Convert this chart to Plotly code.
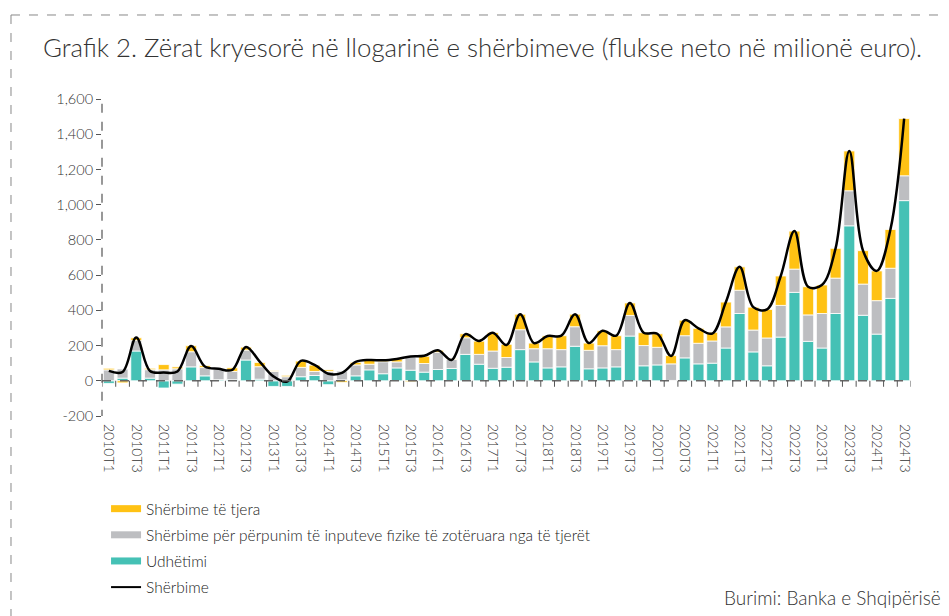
import plotly.graph_objects as go

# Quarterly categories 2010T1 .. 2024T3
years = list(range(2010, 2025))
categories = [f"{y}T{q}" for y in years for q in (1, 2, 3, 4)][:59]

# Net flows, million euro
udhetimi = [-15, 15, 169, 15, -41, -19, 79, 28, 6, 6, 118, 9, -32, -32, 23,
            30, -22, 5, 28, 62, 40, 73, 60, 49, 64, 70, 150, 94, 71, 77,
            177, 107, 73, 79, 196, 68, 73, 79, 254, 85, 90, 2, 130, 96, 100,
            186, 382, 164, 85, 248, 502, 224, 186, 382, 880, 372, 265, 468, 1023]
perpunim = [62, 52, 60, 48, 62, 68, 86, 47, 60, 47, 56, 71, 53, 23, 53,
            23, 53, 50, 62, 32, 68, 34, 75, 49, 98, 51, 94, 56, 98, 55,
            113, 75, 109, 98, 111, 105, 126, 98, 117, 115, 100, 94, 126, 117, 126,
            120, 132, 124, 158, 180, 132, 150, 196, 201, 199, 177, 190, 171, 141]
tjera = [9, -12, 15, 8, 30, 11, 34, 11, 0, 21, 17, 24, 4, 8, 36,
         36, 9, -10, 15, 24, 8, 17, -6, 41, 11, 4, 23, 75, 105, 75,
         88, 32, 73, 79, 71, 41, 85, 79, 71, 73, 77, 47, 88, 85, 49,
         141, 133, 130, 162, 167, 216, 160, 162, 169, 226, 190, 169, 220, 325]
sherbime = [56, 50, 246, 56, 47, 53, 197, 81, 68, 62, 192, 109, 25, -5, 113,
            90, 40, 45, 107, 118, 116, 124, 138, 142, 173, 118, 265, 226, 273, 203,
            378, 214, 254, 256, 378, 214, 284, 256, 442, 273, 267, 141, 344, 298, 268,
            447, 647, 418, 405, 595, 850, 534, 544, 752, 1305, 739, 624, 859, 1489]

ytick_vals = [-200, 0, 200, 400, 600, 800, 1000, 1200, 1400, 1600]
ytick_text = ["-200", "0", "200", "400", "600", "800", "1,000", "1,200", "1,400", "1,600"]

TEAL = "#45C1B5"
GRAY = "#BDBEC1"
YELLOW = "#FFC214"
FONT = "Lato"

fig = go.Figure()

# stacked bars (bottom to top)
for name, vals, col in [("Udhëtimi", udhetimi, TEAL),
                        ("Shërbime për përpunim të inputeve fizike të zotëruara nga të tjerët", perpunim, GRAY),
                        ("Shërbime të tjera", tjera, YELLOW)]:
    fig.add_trace(go.Bar(x=categories, y=vals, name=name, marker_color=col,
                         marker_line=dict(color="white", width=0.8),
                         showlegend=False))

fig.add_trace(go.Scatter(x=categories, y=sherbime, mode="lines", name="Shërbime",
                         line=dict(color="black", width=2.5, shape="spline", smoothing=1.0),
                         showlegend=False))

# legend entries drawn as thick strokes like the original
for i, (name, col, w) in enumerate([("Shërbime të tjera", YELLOW, 7),
                                    ("Shërbime për përpunim të inputeve fizike të zotëruara nga të tjerët", GRAY, 7),
                                    ("Udhëtimi", TEAL, 7),
                                    ("Shërbime", "black", 2)]):
    fig.add_trace(go.Scatter(x=[categories[0]], y=[None], mode="lines", name=name,
                             legendgroup=f"g{i}", line=dict(color=col, width=w)))

shapes = []
# dashed y axis
shapes.append(dict(type="line", xref="paper", yref="y", x0=0, x1=0, y0=-215, y1=1620,
                   line=dict(color="#777", width=1.5, dash="dash"), layer="above"))
# dashed zero line
shapes.append(dict(type="line", xref="paper", yref="y", x0=0, x1=1, y0=0, y1=0,
                   line=dict(color="#666", width=1.5, dash="dash"), layer="above"))
# little ticks on the zero line between categories
for k in range(len(categories) + 1):
    shapes.append(dict(type="line", xref="x", yref="y", ysizemode="pixel", yanchor=0,
                       x0=k - 0.5, x1=k - 0.5, y0=0, y1=-6,
                       line=dict(color="#555", width=1)))
# dashed frame (top and left)
shapes.append(dict(type="line", xref="paper", yref="paper", x0=-0.1125, x1=1.06, y0=1.265, y1=1.265,
                   line=dict(color="#888", width=1, dash="dash")))
shapes.append(dict(type="line", xref="paper", yref="paper", x0=-0.1125, x1=-0.1125, y0=1.265, y1=-0.65,
                   line=dict(color="#888", width=1, dash="dash")))

# the page body adds an 8px margin, so the figure is 8px smaller on each side
fig.update_layout(
    width=941, height=608, autosize=False,
    margin=dict(l=94, r=38, t=91, b=198),
    paper_bgcolor="white", plot_bgcolor="white",
    barmode="relative", bargap=0.2,
    font=dict(family=FONT, color="#333", size=14, weight=300),
    shapes=shapes,
    legend=dict(orientation="v", x=0.005, xanchor="left", y=-0.24, yanchor="top",
                font=dict(size=15.5, family=FONT, color="#222", weight=300),
                itemwidth=30, traceorder="grouped", tracegroupgap=3,
                bgcolor="rgba(0,0,0,0)"),
    annotations=[
        dict(text="Grafik 2. Zërat kryesorë në llogarinë e shërbimeve (flukse neto në milionë euro).",
             xref="paper", yref="paper", x=-0.0755, y=1.165, xanchor="left", yanchor="middle",
             showarrow=False, font=dict(size=25.8, family=FONT, color="#333", weight=300)),
        dict(text="Burimi: Banka e Shqipërisë.",
             xref="paper", yref="paper", x=1.045, y=-0.571, xanchor="right", yanchor="middle",
             showarrow=False, font=dict(size=19, family=FONT, color="#333", weight=300)),
    ],
)

fig.update_xaxes(type="category", range=[-0.5, len(categories) - 0.5],
                 tickmode="array", tickvals=categories[::2], ticktext=categories[::2],
                 tickangle=90, ticks="", showline=False, showgrid=False, zeroline=False,
                 ticklabelstandoff=7, tickfont=dict(size=14, color="#333"))
fig.update_yaxes(range=[-200, 1600], tickmode="array", tickvals=ytick_vals, ticktext=ytick_text,
                 ticks="outside", ticklen=5, tickcolor="#555", showline=False, showgrid=False,
                 zeroline=False, tickfont=dict(size=14.5, color="#333"))

fig.write_html("out.html")
